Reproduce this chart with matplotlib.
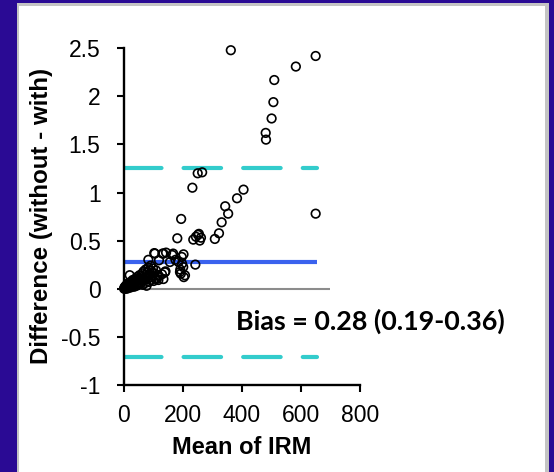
import matplotlib
matplotlib.use("Agg")
import matplotlib.pyplot as plt
from matplotlib.patches import Rectangle

# ---- data ----
mean_irm = [
    2, 3, 4, 5, 6, 7, 8, 9, 10, 11, 12, 13, 14, 15, 16, 18, 19, 20, 21, 22,
    24, 25, 26, 28, 30, 31, 33, 35, 36, 38, 40, 42, 44, 45, 47, 48, 50, 52, 54, 55,
    57, 58, 60, 62, 64, 65, 67, 68, 70, 72, 74, 75, 77, 78, 80, 82, 84, 85, 87, 88,
    90, 92, 94, 95, 98, 100, 102, 105, 108, 110, 112, 115, 118, 120, 135, 140,
    84, 104, 120, 132, 144, 165, 203, 176, 186, 198, 192, 204, 194, 142, 130, 157,
    106, 135, 168, 197, 202, 191, 208, 243, 182, 195, 236, 245, 252, 258, 262, 255,
    233, 251, 266, 309, 323, 332, 344, 354, 384, 406, 363, 650, 583, 510, 507, 501,
    481, 482, 650,
]
difference = [
    0.00, 0.01, 0.00, 0.02, 0.01, 0.00, 0.03, 0.01, 0.02, 0.04, 0.00, 0.02, 0.05, 0.01, 0.03, 0.06, 0.02, 0.04, 0.14, 0.01,
    0.05, 0.07, 0.03, 0.02, 0.06, 0.09, 0.04, 0.08, 0.02, 0.05, 0.10, 0.07, 0.03, 0.12, 0.06, 0.09, 0.04, 0.11, 0.14, 0.07,
    0.05, 0.10, 0.13, 0.08, 0.16, 0.04, 0.11, 0.18, 0.09, 0.14, 0.06, 0.20, 0.12, 0.03, 0.17, 0.10, 0.22, 0.07, 0.15, 0.19,
    0.12, 0.24, 0.09, 0.17, 0.13, 0.21, 0.08, 0.16, 0.11, 0.19, 0.10, 0.14, 0.09, 0.13, 0.10, 0.17,
    0.30, 0.37, 0.295, 0.365, 0.375, 0.35, 0.357, 0.30, 0.277, 0.26, 0.198, 0.12, 0.156, 0.18, 0.15, 0.277,
    0.365, 0.365, 0.365, 0.33, 0.225, 0.173, 0.139, 0.25, 0.524, 0.725, 0.51, 0.54, 0.56, 0.50, 0.53, 0.57,
    1.05, 1.20, 1.21, 0.517, 0.576, 0.69, 0.857, 0.78, 0.94, 1.03, 2.48, 2.42, 2.31, 2.17, 1.94, 1.77,
    1.62, 1.55, 0.78,
]

bias = 0.28
upper_loa = 1.25
lower_loa = -0.71
line_x = [0, 655]
zero_x = [0, 700]

x_ticks = [0, 200, 400, 600, 800]
x_tick_labels = ["0", "200", "400", "600", "800"]
y_ticks = [-1, -0.5, 0, 0.5, 1, 1.5, 2, 2.5]
y_tick_labels = ["-1", "-0.5", "0", "0.5", "1", "1.5", "2", "2.5"]

x_label = "Mean of IRM"
y_label = "Difference (without - with)"
bias_text = "Bias = 0.28 (0.19-0.36)"

# ---- figure ----
W, H = 554, 472
fig = plt.figure(figsize=(W / 100, H / 100), dpi=100)
fig.patch.set_facecolor("#2a0a94")

def px_rect(x0, y0_top, x1, y1_top, color):
    r = Rectangle((x0 / W, 1 - y1_top / H), (x1 - x0) / W, (y1_top - y0_top) / H,
                  transform=fig.transFigure, facecolor=color, edgecolor="none", zorder=-5)
    fig.patches.append(r)

px_rect(17, 3.3, 549, H + 1, "#c4c4c4")
px_rect(19, 5.7, 544.5, H + 1, "#ffffff")

ax_left, ax_right = 123.5, 360.0
ax_top, ax_bottom = 48.3, 384.8
ax = fig.add_axes([ax_left / W, 1 - ax_bottom / H, (ax_right - ax_left) / W, (ax_bottom - ax_top) / H])
ax.set_zorder(1)
ax.set_facecolor("none")
ax.set_xlim(0, 800)
ax.set_ylim(-1, 2.5)

for s in ["top", "right"]:
    ax.spines[s].set_visible(False)
for s in ["left", "bottom"]:
    ax.spines[s].set_linewidth(1.7)
    ax.spines[s].set_color("black")

font_reg = "Liberation Sans"
ax.set_xticks(x_ticks)
ax.set_xticklabels(x_tick_labels, fontfamily=font_reg, fontsize=16.5)
ax.set_yticks(y_ticks)
ax.set_yticklabels(y_tick_labels, fontfamily=font_reg, fontsize=16.5)
ax.tick_params(axis="x", direction="out", length=5, width=1.5, pad=8.5)
ax.tick_params(axis="y", direction="out", length=5, width=1.5, pad=11.5)

# reference lines
ax.plot(zero_x, [0, 0], color="#8c8c8c", lw=1.5, zorder=1, solid_capstyle="butt")
ax.plot(line_x, [bias, bias], color="#3a62ee", lw=3.0, zorder=2, solid_capstyle="butt")
for v in (upper_loa, lower_loa):
    ln, = ax.plot(line_x, [v, v], color="#33cccc", lw=3.0, zorder=2, dash_capstyle="round")
    ln.set_dashes((9.0, 5.3))

ax.scatter(mean_irm, difference, s=38, facecolors="none", edgecolors="black",
           linewidths=1.2, zorder=3, clip_on=False)

fig.text(241.7 / W, 1 - 448 / H, x_label, ha="center", va="center",
         fontfamily=font_reg, fontweight="bold", fontsize=17)
fig.text(42 / W, 1 - 215.7 / H, y_label, ha="center", va="center", rotation=90,
         fontfamily=font_reg, fontweight="bold", fontsize=17.4)
fig.text(236 / W, 1 - 321.7 / H, bias_text, ha="left", va="center",
         fontfamily="Lato", fontweight="bold", fontsize=19.4)

fig.savefig("out.png", dpi=100, facecolor=fig.get_facecolor())
